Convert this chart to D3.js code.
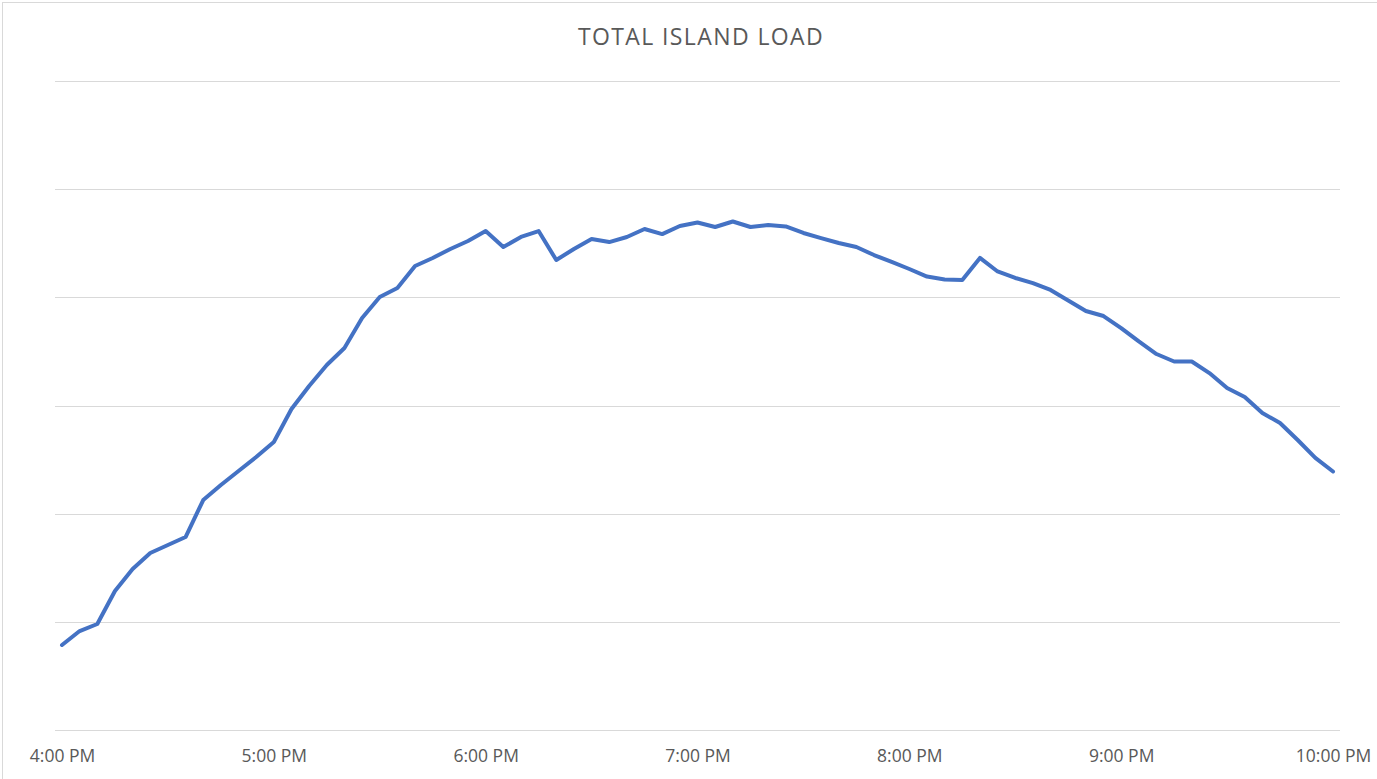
<!DOCTYPE html>
<html>
<head>
<meta charset="utf-8">
<script src="https://cdn.jsdelivr.net/npm/d3@7"></script>
<style>
  html, body { margin: 0; padding: 0; background: #fff; }
  svg { display: block; }
</style>
</head>
<body>
<svg id="chart" width="1377" height="779"></svg>
<script>
// Load readings every 5 minutes, 4:00 PM to 10:00 PM
const startMinutes = 16 * 60;
const stepMinutes = 5;
const loadValues = [
  78.6, 91.5, 98.0, 128.5, 148.8, 163.6, 171.0, 178.4, 212.6, 226.5, 239.4, 252.4,
  266.2, 296.8, 318.0, 337.4, 353.2, 380.9, 400.3, 408.6, 429.0, 436.4, 444.7, 452.1,
  461.3, 446.5, 455.8, 461.3, 434.5, 444.7, 453.9, 451.1, 455.8, 463.2, 458.5, 465.9,
  469.2, 465.0, 470.1, 465.0, 466.9, 465.5, 459.5, 454.8, 450.2, 446.5, 439.1, 432.7,
  426.2, 419.2, 416.5, 416.0, 436.4, 423.9, 417.9, 413.2, 406.8, 397.1, 387.4, 382.7,
  371.6, 359.2, 347.6, 340.7, 340.7, 330.0, 316.2, 307.8, 293.1, 283.8, 268.1, 251.5,
  239.0
];
const yGridValues = [0, 100, 200, 300, 400, 500, 600];
const xTickMinutes = [960, 1020, 1080, 1140, 1200, 1260, 1320];
const xTickLabels = ["4:00 PM", "5:00 PM", "6:00 PM", "7:00 PM", "8:00 PM", "9:00 PM", "10:00 PM"];
const chartTitle = "TOTAL ISLAND LOAD";

const points = loadValues.map((v, i) => ({ t: startMinutes + i * stepMinutes, v }));

const svg = d3.select("#chart");
const font = "'Open Sans', 'Segoe UI', sans-serif";

// chart frame
svg.append("rect")
  .attr("x", 2.5).attr("y", 2.5)
  .attr("width", 1400).attr("height", 800)
  .attr("fill", "#fff").attr("stroke", "#d9d9d9").attr("stroke-width", 1);

const x = d3.scaleLinear().domain([960, 1320]).range([62, 1333]);
const y = d3.scaleLinear().domain([0, 600]).range([730, 81]);
const gridLeft = 55, gridRight = 1340;

// horizontal gridlines
svg.append("g")
  .selectAll("line")
  .data(yGridValues)
  .join("line")
  .attr("x1", gridLeft).attr("x2", gridRight)
  .attr("y1", d => Math.round(y(d)) + 0.5).attr("y2", d => Math.round(y(d)) + 0.5)
  .attr("stroke", "#d9d9d9").attr("stroke-width", 1);

// x axis labels
const xAxis = d3.axisBottom(x)
  .tickValues(xTickMinutes)
  .tickFormat((d, i) => xTickLabels[i])
  .tickSize(0);
const gx = svg.append("g").attr("transform", `translate(0,${y(0)})`).call(xAxis);
gx.select(".domain").remove();
gx.selectAll("text")
  .attr("y", 31.5)
  .attr("dy", "0")
  .attr("fill", "#595959")
  .style("font-family", font)
  .style("font-size", "17.5px");

// load line
const line = d3.line().x(d => x(d.t)).y(d => y(d.v));
svg.append("path")
  .datum(points)
  .attr("d", line)
  .attr("fill", "none")
  .attr("stroke", "#4472c4")
  .attr("stroke-width", 4)
  .attr("stroke-linejoin", "round")
  .attr("stroke-linecap", "round");

// title
svg.append("text")
  .attr("x", 701).attr("y", 45)
  .attr("text-anchor", "middle")
  .attr("fill", "#595959")
  .style("font-family", font)
  .style("font-size", "23px")
  .style("letter-spacing", "1.4px")
  .text(chartTitle);
</script>
</body>
</html>
